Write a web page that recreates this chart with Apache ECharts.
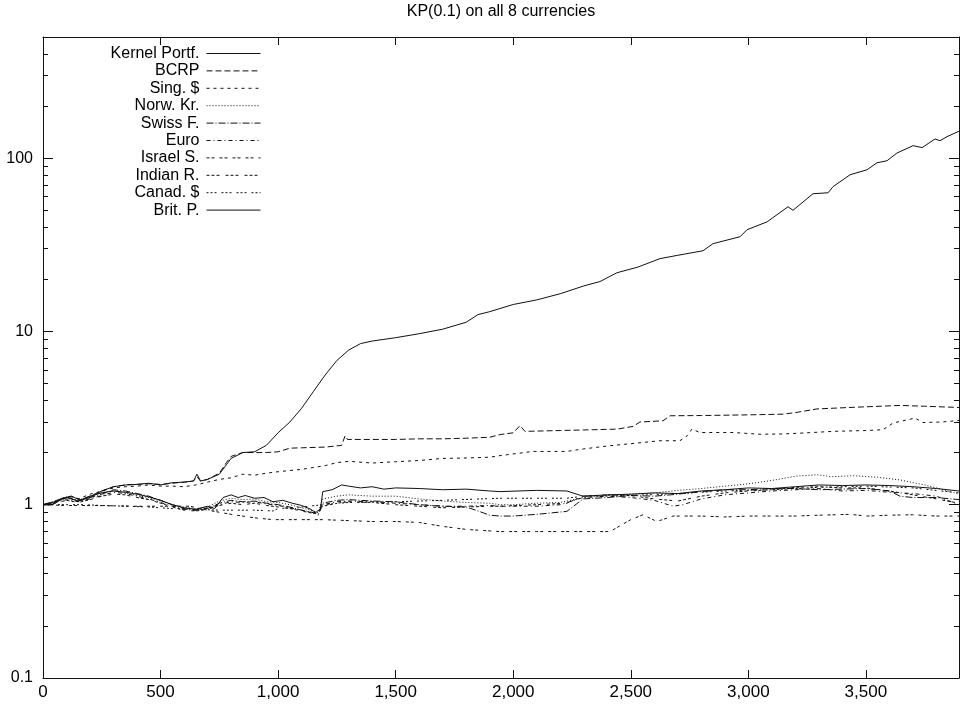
<!DOCTYPE html>
<html><head><meta charset="utf-8">
<script src="https://cdn.jsdelivr.net/npm/echarts@6/dist/echarts.min.js"></script>
<style>html,body{margin:0;padding:0;background:#fff}#c{width:962px;height:709px}</style>
</head><body><div id="c"></div>
<script>
const seriesNames = ['Kernel Portf.','BCRP','Sing. $','Norw. Kr.','Swiss F.','Euro','Israel S.','Indian R.','Canad. $','Brit. P.'];
const xTickValues = [0,500,1000,1500,2000,2500,3000,3500];
const yMajorTicks = [0.1,1,10,100];
const yMinorTicks = [0.2,0.3,0.4,0.5,0.6,0.7,0.8,0.9,2,3,4,5,6,7,8,9,20,30,40,50,60,70,80,90,200,300,400];

const kernelPortf = [[0,1],[40,1.0],[80,1.08],[120,1.12],[160,1.06],[200,1.1],[250,1.2],[300,1.27],[350,1.3],[400,1.31],[450,1.33],[500,1.3],[550,1.34],[600,1.35],[640,1.37],[655,1.5],[670,1.37],[700,1.4],[750,1.5],[780,1.7],[800,1.85],[850,2.0],[900,2.02],[950,2.2],[1000,2.6],[1050,3.0],[1100,3.6],[1150,4.5],[1200,5.6],[1250,6.8],[1300,7.8],[1350,8.5],[1400,8.8],[1450,9.0],[1500,9.2],[1600,9.7],[1700,10.3],[1800,11.3],[1850,12.5],[1900,13.0],[2000,14.3],[2100,15.2],[2200,16.5],[2300,18.3],[2369,19.4],[2441,21.8],[2530,23.5],[2624,26.3],[2700,27.5],[2807,29.2],[2850,32.1],[2965,35.2],[2994,38.6],[3080,42.9],[3169,52.4],[3190,50],[3275,62.3],[3339,63.1],[3360,68.4],[3433,80.2],[3505,85.7],[3547,94],[3590,96.6],[3632,107],[3701,118],[3739,115],[3794,129],[3815,126],[3845,133],[3896,143]];
const bcrp = [[0,1],[40,1.0],[80,1.09],[120,1.12],[160,1.07],[200,1.12],[250,1.2],[300,1.27],[350,1.3],[400,1.31],[450,1.32],[500,1.31],[550,1.33],[600,1.35],[640,1.37],[655,1.45],[670,1.37],[700,1.4],[750,1.52],[780,1.75],[800,1.9],[850,2.0],[900,2.0],[950,2.0],[1000,2.02],[1050,2.12],[1100,2.13],[1200,2.15],[1270,2.2],[1285,2.5],[1295,2.38],[1400,2.38],[1500,2.38],[1600,2.4],[1700,2.4],[1800,2.42],[1900,2.45],[1944,2.54],[2000,2.6],[2029,2.86],[2050,2.65],[2100,2.66],[2200,2.68],[2300,2.7],[2441,2.73],[2510,2.83],[2539,3.0],[2637,3.05],[2667,3.26],[2800,3.27],[3000,3.3],[3148,3.33],[3200,3.4],[3292,3.57],[3450,3.65],[3645,3.74],[3750,3.7],[3896,3.64]];
const singDollar = [[0,1],[50,1.03],[100,1.1],[150,1.08],[200,1.15],[250,1.2],[300,1.25],[350,1.27],[400,1.28],[450,1.3],[500,1.28],[550,1.28],[600,1.27],[650,1.3],[700,1.35],[750,1.4],[800,1.43],[850,1.5],[900,1.48],[950,1.52],[1000,1.55],[1100,1.6],[1200,1.68],[1250,1.75],[1300,1.78],[1400,1.74],[1500,1.77],[1600,1.8],[1700,1.85],[1800,1.86],[1900,1.88],[1944,1.92],[2084,2.03],[2228,2.03],[2300,2.1],[2412,2.19],[2500,2.25],[2624,2.34],[2709,2.34],[2740,2.5],[2760,2.73],[2794,2.61],[2935,2.61],[3050,2.55],[3148,2.56],[3250,2.6],[3360,2.65],[3500,2.68],[3573,2.71],[3615,2.96],[3709,3.16],[3743,2.98],[3820,3.0],[3896,3.06]];
const norwKrone = [[0,1],[50,1.04],[100,1.09],[150,1.06],[200,1.12],[250,1.18],[300,1.2],[350,1.17],[400,1.13],[450,1.1],[500,1.05],[550,1.0],[600,0.97],[650,0.95],[700,0.97],[750,1.05],[800,1.09],[850,1.07],[900,1.08],[950,1.04],[1000,1.03],[1050,1.0],[1100,0.96],[1150,0.92],[1170,0.9],[1190,1.08],[1250,1.12],[1300,1.14],[1400,1.12],[1500,1.12],[1600,1.08],[1700,1.05],[1800,1.03],[1900,1.02],[1944,1.0],[2000,1.0],[2100,1.02],[2200,1.03],[2300,1.1],[2400,1.13],[2500,1.15],[2600,1.17],[2700,1.21],[2800,1.24],[2900,1.28],[3000,1.32],[3100,1.38],[3200,1.46],[3292,1.49],[3350,1.45],[3445,1.47],[3550,1.44],[3645,1.39],[3750,1.3],[3830,1.22],[3896,1.15]];
const swissFranc = [[0,1],[50,1.05],[100,1.11],[150,1.05],[200,1.1],[250,1.15],[300,1.22],[350,1.2],[400,1.16],[450,1.12],[500,1.06],[550,1.0],[600,0.95],[650,0.93],[700,0.95],[750,1.02],[800,1.06],[850,1.04],[900,1.05],[950,1.02],[1000,1.0],[1050,0.97],[1100,0.93],[1150,0.9],[1170,0.88],[1190,1.02],[1250,1.06],[1300,1.07],[1400,1.05],[1500,1.04],[1600,1.0],[1700,0.98],[1800,0.97],[1850,0.92],[1900,0.87],[1944,0.86],[2000,0.86],[2100,0.88],[2228,0.915],[2297,1.08],[2400,1.1],[2500,1.13],[2600,1.12],[2700,1.15],[2800,1.19],[2900,1.22],[3000,1.22],[3100,1.24],[3200,1.24],[3300,1.22],[3400,1.23],[3500,1.24],[3600,1.2],[3645,1.12],[3700,1.1],[3800,1.1],[3896,1.07]];
const euro = [[0,1],[50,1.03],[100,1.07],[150,1.04],[200,1.08],[250,1.13],[300,1.18],[350,1.16],[400,1.12],[450,1.08],[500,1.03],[550,0.98],[600,0.94],[650,0.93],[700,0.96],[750,1.0],[800,1.04],[850,1.03],[900,1.04],[950,1.01],[1000,0.99],[1050,0.96],[1100,0.93],[1150,0.9],[1170,0.87],[1190,1.0],[1250,1.04],[1300,1.05],[1400,1.04],[1500,1.02],[1600,1.0],[1700,0.98],[1800,0.98],[1900,0.99],[1944,0.98],[2000,0.98],[2100,0.98],[2200,1.0],[2297,1.1],[2400,1.12],[2500,1.1],[2600,1.06],[2680,0.98],[2720,1.0],[2800,1.08],[2900,1.14],[3000,1.17],[3100,1.2],[3200,1.22],[3300,1.24],[3400,1.2],[3500,1.21],[3600,1.18],[3700,1.16],[3800,1.12],[3896,1.0]];
const israelShekel = [[0,1],[100,0.99],[200,0.99],[300,0.985],[400,0.98],[500,0.98],[625,0.98],[700,0.93],[800,0.88],[900,0.84],[978,0.82],[1100,0.82],[1190,0.82],[1300,0.81],[1400,0.8],[1500,0.8],[1600,0.79],[1700,0.75],[1800,0.72],[1944,0.7],[2100,0.7],[2250,0.7],[2412,0.7],[2450,0.75],[2500,0.82],[2552,0.875],[2611,0.8],[2680,0.86],[2800,0.86],[2900,0.85],[3000,0.86],[3100,0.86],[3200,0.86],[3300,0.87],[3433,0.88],[3505,0.86],[3600,0.87],[3700,0.875],[3800,0.86],[3896,0.86]];
const indianRupee = [[0,1],[50,1.02],[100,1.06],[150,1.03],[200,1.07],[250,1.12],[300,1.15],[350,1.14],[400,1.1],[450,1.07],[500,1.02],[550,0.97],[600,0.93],[650,0.92],[700,0.94],[750,0.99],[800,1.02],[850,1.0],[900,1.02],[950,0.99],[1000,0.97],[1050,0.95],[1100,0.92],[1150,0.89],[1190,0.98],[1250,1.02],[1300,1.04],[1400,1.03],[1500,1.0],[1600,0.98],[1700,0.96],[1800,0.97],[1900,0.98],[1944,0.98],[2100,1.0],[2228,1.02],[2297,1.12],[2400,1.14],[2500,1.13],[2600,1.08],[2700,1.05],[2800,1.12],[2900,1.17],[3000,1.2],[3100,1.22],[3200,1.26],[3300,1.27],[3400,1.25],[3500,1.25],[3600,1.2],[3700,1.14],[3800,1.08],[3896,1.02]];
const canadDollar = [[0,1],[100,1.0],[170,1.0],[250,0.99],[350,0.98],[450,0.97],[550,0.95],[650,0.94],[753,0.93],[900,0.93],[978,0.92],[1000,0.95],[1100,0.97],[1190,1.0],[1300,1.03],[1500,1.04],[1700,1.06],[1944,1.09],[2228,1.09],[2297,1.12],[2500,1.13],[2700,1.16],[2900,1.2],[3100,1.22],[3300,1.26],[3500,1.28],[3700,1.25],[3896,1.17]];
const britPound = [[0,1],[50,1.04],[100,1.1],[150,1.05],[200,1.12],[250,1.17],[300,1.2],[350,1.18],[400,1.15],[450,1.11],[500,1.06],[550,1.0],[600,0.96],[650,0.94],[700,0.98],[730,0.95],[766,1.1],[800,1.14],[830,1.1],[860,1.13],[900,1.09],[940,1.1],[978,1.04],[1020,1.06],[1060,1.02],[1100,0.99],[1140,0.94],[1160,0.9],[1180,0.95],[1190,1.19],[1230,1.22],[1270,1.3],[1300,1.28],[1350,1.25],[1400,1.27],[1450,1.23],[1500,1.25],[1600,1.24],[1700,1.22],[1800,1.23],[1900,1.2],[1944,1.19],[2100,1.21],[2228,1.2],[2297,1.12],[2400,1.14],[2500,1.15],[2600,1.17],[2700,1.16],[2800,1.2],[2900,1.22],[3000,1.25],[3100,1.24],[3200,1.27],[3300,1.3],[3400,1.29],[3500,1.3],[3600,1.29],[3700,1.27],[3800,1.24],[3896,1.2]];

const seriesData = [kernelPortf,bcrp,singDollar,norwKrone,swissFranc,euro,israelShekel,indianRupee,canadDollar,britPound];
const dashTypes = ['solid',[6,3],[3,4],[1,2],[7,2,1,2],[4,3,1,3],[3,2,3,5],[3,2,3,2,3,6],[2,2,2,2,2,5],'solid'];

const FONT = 'Liberation Sans, Arial, Helvetica, sans-serif';
const INK = '#111';
const xMin = 0, xMax = 3896, yMin = 0.1, yMax = 500;
const fmtX = v => Number(v).toLocaleString('en-US');
const fmtY = v => String(+Number(v).toPrecision(3));

function xAx(pos, labels) {
  return {
    type: 'value', position: pos, min: xMin, max: xMax,
    axisLine: { show: true, onZero: false, lineStyle: { color: INK, width: 1 } },
    axisTick: { show: true, inside: true, length: 8, customValues: xTickValues, lineStyle: { color: INK } },
    axisLabel: { show: labels, customValues: xTickValues, formatter: fmtX, color: '#000', fontSize: 17, fontFamily: FONT, margin: 6 },
    splitLine: { show: false }
  };
}
function yAx(pos, ticks, len, labels, line) {
  return {
    type: 'log', logBase: 10, position: pos, min: yMin, max: yMax,
    axisLine: { show: line, lineStyle: { color: INK, width: 1 } },
    axisTick: { show: true, inside: true, length: len, customValues: ticks, lineStyle: { color: INK } },
    axisLabel: { show: labels, customValues: ticks, formatter: fmtY, color: '#000', fontSize: 16, fontFamily: FONT, margin: 10 },
    splitLine: { show: false }, minorTick: { show: false }
  };
}

const legends = seriesNames.map((n, i) => ({
  data: [n], right: 962 - 261, top: 45.5 + i * 17.4, orient: 'vertical', align: 'right',
  itemWidth: 54, itemHeight: 13, padding: 0, selectedMode: false,
  itemStyle: { opacity: 0 },
  lineStyle: { width: 1 },
  textStyle: { fontSize: 16, fontFamily: FONT, color: '#000', padding: [0, 2, 0, 0] }
}));

const series = seriesNames.map((n, i) => ({
  name: n, type: 'line', data: seriesData[i], xAxisIndex: 0, yAxisIndex: 0,
  symbol: 'none', showSymbol: false, silent: true, animation: false,
  lineStyle: { color: INK, width: 1, type: dashTypes[i] },
  itemStyle: { color: INK }
}));

const chart = echarts.init(document.getElementById('c'), null, { renderer: 'canvas' });
chart.setOption({
  backgroundColor: '#fff',
  animation: false,
  graphic: [{ type: 'text', x: 501, y: 4, style: { text: 'KP(0.1) on all 8 currencies', textAlign: 'center', fontSize: 16, fontFamily: FONT, fill: '#000' } }],
  grid: { left: 43, right: 3, top: 37, bottom: 31, containLabel: false },
  legend: legends,
  xAxis: [xAx('bottom', true), xAx('top', false)],
  yAxis: [yAx('left', yMajorTicks, 10, true, true), yAx('left', yMinorTicks, 5, false, false),
          yAx('right', yMajorTicks, 10, false, true), yAx('right', yMinorTicks, 5, false, false)],
  series: series
});
</script></body></html>
